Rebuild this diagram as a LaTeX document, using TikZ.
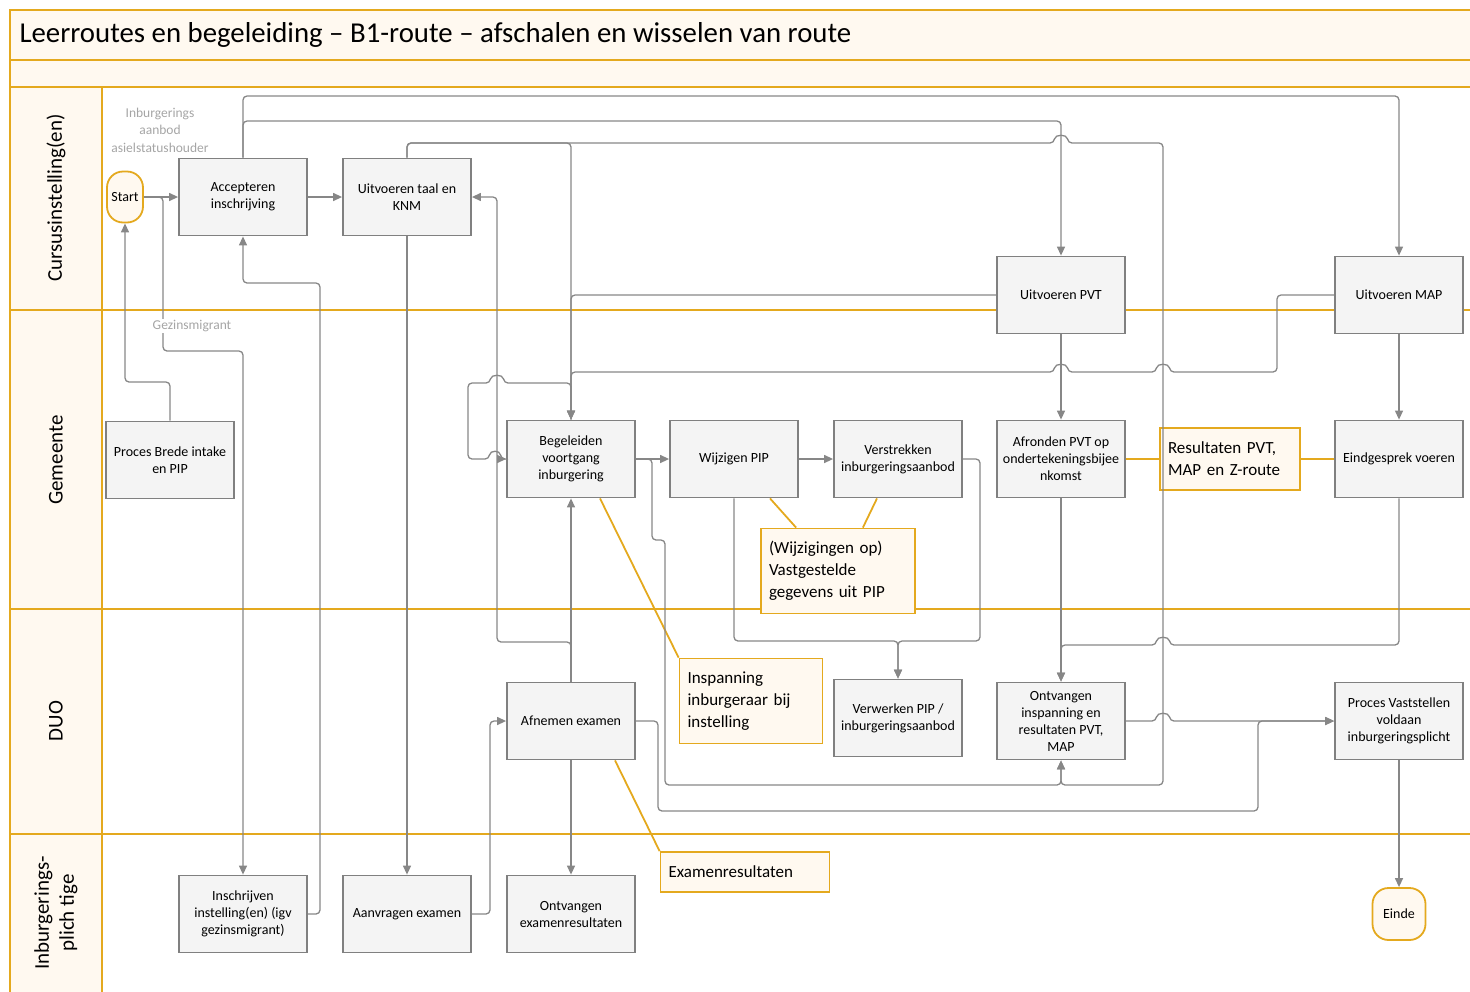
\documentclass[tikz,border=0pt]{standalone}
\usepackage{fontspec}
\setmainfont{Carlito}
\usetikzlibrary{arrows.meta}
\definecolor{laneorange}{RGB}{228,169,30}
\definecolor{lanecream}{RGB}{255,249,240}
\definecolor{boxgray}{RGB}{244,244,244}
\definecolor{boxline}{RGB}{128,128,128}
\definecolor{flowgray}{RGB}{135,135,135}
\definecolor{hintgray}{RGB}{165,165,165}
\begin{document}
\begin{tikzpicture}[
x=1pt, y=-1pt,
lane/.style={draw=laneorange, line width=2.6pt},
lanelabel/.style={rotate=90, align=center, font=\fontsize{21}{25}\selectfont},
proc/.style={rectangle, draw=boxline, fill=boxgray, line width=1.8pt,
  minimum width=128pt, minimum height=77pt, inner sep=2pt, align=center,
  font=\fontsize{14}{17}\selectfont},
term/.style={rectangle, rounded corners=16pt, draw=laneorange, fill=lanecream,
  line width=1.8pt, inner sep=0pt, font=\fontsize{14}{17}\selectfont},
note/.style={rectangle, draw=laneorange, fill=lanecream, line width=1.8pt,
  inner xsep=8pt, inner ysep=3pt, align=left, font=\fontsize{17}{22}\selectfont},
hint/.style={text=hintgray, align=center, font=\fontsize{13.5}{17.5}\selectfont},
flow/.style={draw=flowgray, line width=1.3pt, rounded corners=4pt,
  -{Triangle[length=9pt,width=8pt]}},
noteline/.style={draw=laneorange, line width=1.8pt},
%every node/.style={scale=0.6},
]
\useasboundingbox (0,0) rectangle (1470,991);
\clip (0,0) rectangle (1470,991);

% swimlanes
\fill[lanecream] (10,10) rectangle (1480,87);
\fill[lanecream] (10,87) rectangle (102,1000);
\draw[lane] (10,1000) -- (10,10) -- (1480,10);
\foreach \y in {60,87,310,609,834}
  \draw[lane] (10,\y) -- (1480,\y);
\draw[lane] (102,87) -- (102,1000);

\node [anchor=west, font=\fontsize{28.8}{32}\selectfont] (title) at (16,35)
  {Leerroutes en begeleiding -- B1-route -- afschalen en wisselen van route};
\node [lanelabel] (cursus) at (56,198) {Cursusinstelling(en)};
\node [lanelabel] (gemeente) at (56,460) {Gemeente};
\node [lanelabel] (duo) at (56,721) {DUO};
\node [lanelabel] (plichtige) at (56,913) {Inburgerings-\\plich tige};

% activiteiten
\node [term, minimum width=36pt, minimum height=51pt] (start) at (125,197) {Start};
\node [proc] (accept) at (243,197) {Accepteren\\inschrijving};
\node [proc] (taal) at (407,197) {Uitvoeren taal en\\KNM};
\node [proc] (pvt) at (1061,295) {Uitvoeren PVT};
\node [proc] (map) at (1399,295) {Uitvoeren MAP};
\node [proc] (brede) at (170,460) {Proces Brede intake\\en PIP};
\node [proc] (begel) at (571,459) {Begeleiden\\voortgang\\inburgering};
\node [proc] (wijz) at (734,459) {Wijzigen PIP};
\node [proc] (verstr) at (898,459) {Verstrekken\\inburgeringsaanbod};
\node [proc] (afrond) at (1061,459) {Afronden PVT op\\ondertekeningsbijee\\nkomst};
\node [proc] (eind) at (1399,459) {Eindgesprek voeren};
\node [proc] (afnemen) at (571,721) {Afnemen examen};
\node [proc] (verwerk) at (898,718) {Verwerken PIP /\\inburgeringsaanbod};
\node [proc] (ontv) at (1061,721) {Ontvangen\\inspanning en\\resultaten PVT,\\MAP};
\node [proc] (vastst) at (1399,721) {Proces Vaststellen\\voldaan\\inburgeringsplicht};
\node [proc] (inschr) at (243,914) {Inschrijven\\instelling(en) (igv\\gezinsmigrant)};
\node [proc] (aanvr) at (407,914) {Aanvragen examen};
\node [proc] (ontvex) at (571,914) {Ontvangen\\examenresultaten};
\node [term, minimum width=53pt, minimum height=52pt] (einde) at (1399,914) {Einde};

% gegevens
\node [note, text width=124pt, minimum height=62pt] (resultaten) at (1230,459)
  {Resultaten PVT,\\MAP en Z-route};
\node [note, text width=138pt, minimum height=85pt] (vastgesteld) at (838,571)
  {(Wijzigingen op)\\Vastgestelde\\gegevens uit PIP};
\node [note, text width=127pt, minimum height=85pt] (inspanning) at (751,701)
  {Inspanning\\inburgeraar bij\\instelling};
\node [note, text width=153pt, minimum height=40pt] (exres) at (745,872)
  {Examenresultaten};

\draw [noteline] (afrond.east) -- (resultaten.west);
\draw [noteline] (resultaten.east) -- (eind.west);
\draw [noteline] ([xshift=36pt]wijz.south) -- ([xshift=36pt]vastgesteld.north west);
\draw [noteline] ([xshift=-21pt]verstr.south) -- ([xshift=-53pt]vastgesteld.north east);
\draw [noteline] ([xshift=29pt]begel.south) -- (inspanning.north west);
\draw [noteline] ([xshift=44pt]afnemen.south) -- (exres.north west);

% stromen
\node [hint] (aanbodlbl) at (160,130) {Inburgerings\\aanbod\\asielstatushouder};
\draw [flow] (start.east) -- (accept.west);
\draw [flow] (start.east) -| (163,351) -| (inschr.north);
\node [hint, fill=white, inner sep=1pt] (gezinlbl) at (192,326) {Gezinsmigrant};
\draw [flow] (brede.north) |- (125,382) -- (start.south);
\draw [flow] (inschr.east) -| (320,283) -| (accept.south);
\draw [flow] (accept.east) -- (taal.west);
\draw [flow] (accept.north) |- (1061,121) -- (pvt.north);
\draw [flow] (accept.north) |- (1399,96) -- (map.north);
\draw [flow] (taal.north) |- (571,143) -- (begel.north);
\draw [flow] (taal.north) |- (1054,143) .. controls (1055,134) and (1067,134) .. (1068,143)
  -| (1163,785) -| (ontv.south);
\draw [flow] (pvt.west) -| (begel.north);
\draw [flow] (map.west) -| (1277,372) -- (1170,372)
  .. controls (1169,363) and (1157,363) .. (1156,372) -- (1068,372)
  .. controls (1067,363) and (1055,363) .. (1054,372) -| (begel.north);
\draw [flow] (begel.north) -- (571,383) -- (504,383)
  .. controls (503,374) and (491,374) .. (490,383) -- (468,383) -- (468,459) -- (489,459)
  .. controls (490,450) and (500,450) .. (501,459) -- (begel.west);
\draw [flow] (afnemen.north) -- (begel.south);
\draw [flow] (afnemen.north) |- (497,642) |- (taal.east);
\draw [flow] (taal.south) -- (aanvr.north);
\draw [flow] (aanvr.east) -| (490,721) -- (afnemen.west);
\draw [flow] (afnemen.south) -- (ontvex.north);
\draw [flow] (afnemen.east) -| (658,811) -| (1258,721) -- (vastst.west);
\draw [flow] (begel.east) -- (wijz.west);
\draw [flow] (begel.east) -| (652,540) -| (665,785) -| (ontv.south);
\draw [flow] (wijz.east) -- (verstr.west);
\draw [flow] (wijz.south) |- (898,641) -- (verwerk.north);
\draw [flow] (verstr.east) -| (980,641) -| (verwerk.north);
\draw [flow] (pvt.south) -- (afrond.north);
\draw [flow] (afrond.south) -- (ontv.north);
\draw [flow] (eind.south) |- (1170,645) .. controls (1169,636) and (1157,636) .. (1156,645)
  -| (ontv.north);
\draw [flow] (map.south) -- (eind.north);
\draw [flow] (ontv.east) -- (1156,721) .. controls (1157,712) and (1169,712) .. (1170,721)
  -- (vastst.west);
\draw [flow] (vastst.south) -- (einde.north);
\end{tikzpicture}
\end{document}
